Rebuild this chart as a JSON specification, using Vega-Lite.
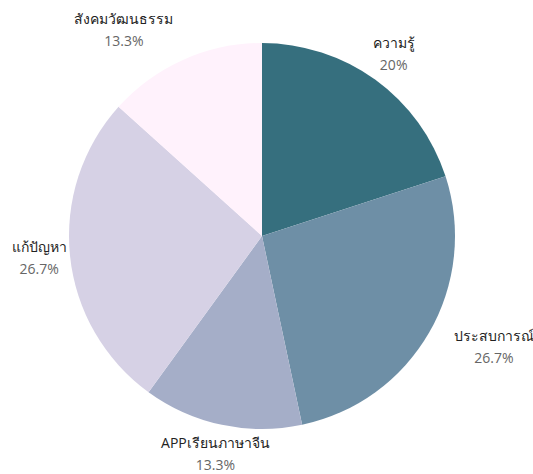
{
  "$schema": "https://vega.github.io/schema/vega-lite/v6.json",
  "width": 524,
  "height": 472,
  "autosize": {"type": "none"},
  "padding": {"left": 0, "right": 9, "top": 0, "bottom": 2},
  "background": "white",
  "config": {"view": {"stroke": null}, "font": "Open Sans"},
  "data": {
    "values": [
      {"i": 1, "name": "ความรู้", "value": 3},
      {"i": 2, "name": "ประสบการณ์", "value": 4},
      {"i": 3, "name": "APPเรียนภาษาจีน", "value": 2},
      {"i": 4, "name": "แก้ปัญหา", "value": 4},
      {"i": 5, "name": "สังคมวัฒนธรรม", "value": 2}
    ]
  },
  "transform": [
    {"joinaggregate": [{"op": "sum", "field": "value", "as": "total"}]},
    {"calculate": "format(datum.value / datum.total * 100, '.1~f') + '%'", "as": "pct"},
    {"stack": "value", "groupby": [], "sort": [{"field": "i", "order": "ascending"}], "as": ["s0", "s1"]},
    {"calculate": "(datum.s0 + datum.s1) / 2", "as": "mid"}
  ],
  "layer": [
    {
      "mark": {"type": "arc", "outerRadius": 193},
      "encoding": {
        "theta": {"field": "s0", "type": "quantitative", "stack": false, "scale": {"domain": [0, 15]}},
        "theta2": {"field": "s1"},
        "color": {
          "field": "name",
          "type": "nominal",
          "scale": {
            "domain": ["ความรู้", "ประสบการณ์", "APPเรียนภาษาจีน", "แก้ปัญหา", "สังคมวัฒนธรรม"],
            "range": ["#366f7e", "#6e8fa6", "#a5aec8", "#d6d1e5", "#fff2fc"]
          },
          "legend": null
        }
      }
    },
    {
      "transform": [{"filter": "datum.i == 1 || datum.i == 3 || datum.i == 4"}],
      "mark": {"type": "text", "radius": 224, "dy": -11, "fontSize": 14, "color": "#222222"},
      "encoding": {"theta": {"field": "mid", "type": "quantitative", "stack": false}, "text": {"field": "name"}}
    },
    {
      "transform": [{"filter": "datum.i == 1 || datum.i == 3 || datum.i == 4"}],
      "mark": {"type": "text", "radius": 224, "dy": 11, "fontSize": 14, "color": "#666666"},
      "encoding": {"theta": {"field": "mid", "type": "quantitative", "stack": false}, "text": {"field": "pct"}}
    },
    {
      "transform": [{"filter": "datum.i == 2"}],
      "mark": {"type": "text", "radius": 224, "dx": 38, "dy": -11, "fontSize": 14, "color": "#222222"},
      "encoding": {"theta": {"field": "mid", "type": "quantitative", "stack": false}, "text": {"field": "name"}}
    },
    {
      "transform": [{"filter": "datum.i == 2"}],
      "mark": {"type": "text", "radius": 224, "dx": 38, "dy": 11, "fontSize": 14, "color": "#666666"},
      "encoding": {"theta": {"field": "mid", "type": "quantitative", "stack": false}, "text": {"field": "pct"}}
    },
    {
      "transform": [{"filter": "datum.i == 5"}],
      "mark": {"type": "text", "radius": 224, "dx": -47, "dy": -11, "fontSize": 14, "color": "#222222"},
      "encoding": {"theta": {"field": "mid", "type": "quantitative", "stack": false}, "text": {"field": "name"}}
    },
    {
      "transform": [{"filter": "datum.i == 5"}],
      "mark": {"type": "text", "radius": 224, "dx": -47, "dy": 11, "fontSize": 14, "color": "#666666"},
      "encoding": {"theta": {"field": "mid", "type": "quantitative", "stack": false}, "text": {"field": "pct"}}
    }
  ]
}
